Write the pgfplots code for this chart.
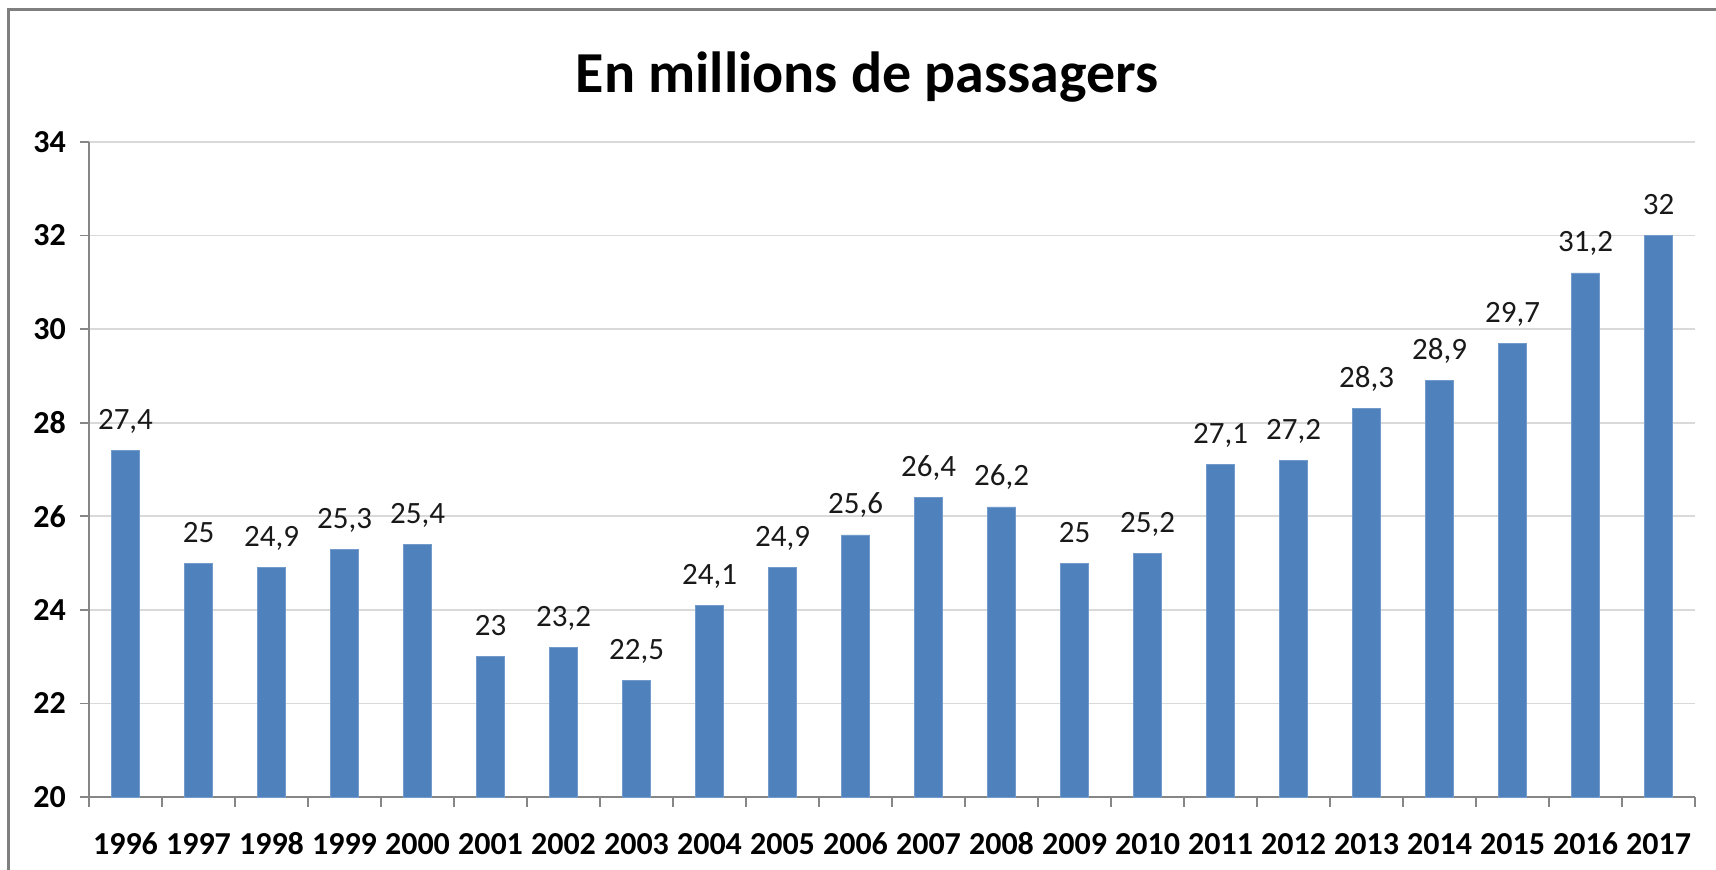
\documentclass[border=0pt]{standalone}
\usepackage{pgfplots}
\pgfplotsset{compat=1.18}
\usepackage{pgfplotstable}
\usepackage{fontspec}
\setmainfont{Carlito}
\definecolor{barblue}{HTML}{4F81BD}
\definecolor{gridgray}{HTML}{D9D9D9}
\definecolor{axgray}{HTML}{868686}
\definecolor{framegray}{HTML}{7F7F7F}
\pgfplotstableread{
x year y lab
0 1996 27.4 27,4
1 1997 25 25
2 1998 24.9 24,9
3 1999 25.3 25,3
4 2000 25.4 25,4
5 2001 23 23
6 2002 23.2 23,2
7 2003 22.5 22,5
8 2004 24.1 24,1
9 2005 24.9 24,9
10 2006 25.6 25,6
11 2007 26.4 26,4
12 2008 26.2 26,2
13 2009 25 25
14 2010 25.2 25,2
15 2011 27.1 27,1
16 2012 27.2 27,2
17 2013 28.3 28,3
18 2014 28.9 28,9
19 2015 29.7 29,7
20 2016 31.2 31,2
21 2017 32 32
}\datatable
\begin{document}
\begin{tikzpicture}[x=1pt,y=1pt]
\path[use as bounding box] (0,0) rectangle (858,-435);
\draw[line width=1.5pt, color=framegray] (4.25,-436) -- (4.25,-4.75) -- (859,-4.75);
\node[anchor=base, font=\fontsize{29pt}{34pt}\bfseries\selectfont] at (433.5,-46.5) {En millions de passagers};
\begin{axis}[
  at={(44.5pt,-398.5pt)}, anchor=south west,
  scale only axis, width=803pt, height=327.5pt,
  xmin=-0.5, xmax=21.5, ymin=20, ymax=34,
  axis lines*=left,
  axis line style={draw=axgray, line width=0.8pt, -},
  ybar, bar width=14pt,
  xtick={0,...,21},
  xticklabels={1996,1997,1998,1999,2000,2001,2002,2003,2004,2005,2006,2007,2008,2009,2010,2011,2012,2013,2014,2015,2016,2017},
  x tick style={draw=none},
  minor xtick={-0.5,0.5,...,21.5},
  minor x tick style={draw=axgray, line width=0.8pt},
  minor tick length=5pt,
  ytick={20,22,...,34},
  yticklabels={20,22,24,26,28,30,32,34},
  y tick style={draw=axgray, line width=0.8pt},
  major tick length=4.5pt,
  tick align=outside,
  ymajorgrids,
  grid style={draw=gridgray, line width=0.8pt},
  ticklabel style={font=\fontsize{16pt}{18pt}\bfseries\selectfont, text=black},
  xticklabel style={yshift=-9pt, text height=11.6pt, text depth=0pt},
  yticklabel style={xshift=-3.5pt},
  nodes near coords,
  point meta=explicit symbolic,
  every node near coord/.append style={anchor=base, yshift=10.5pt, font=\fontsize{15.5pt}{18pt}\selectfont, text=black!90},
  clip=false,
]
\addplot[fill=barblue, draw=barblue!80!white, line width=0.4pt] table[x=x, y=y, meta=lab] {\datatable};
\end{axis}
\end{tikzpicture}
\end{document}
